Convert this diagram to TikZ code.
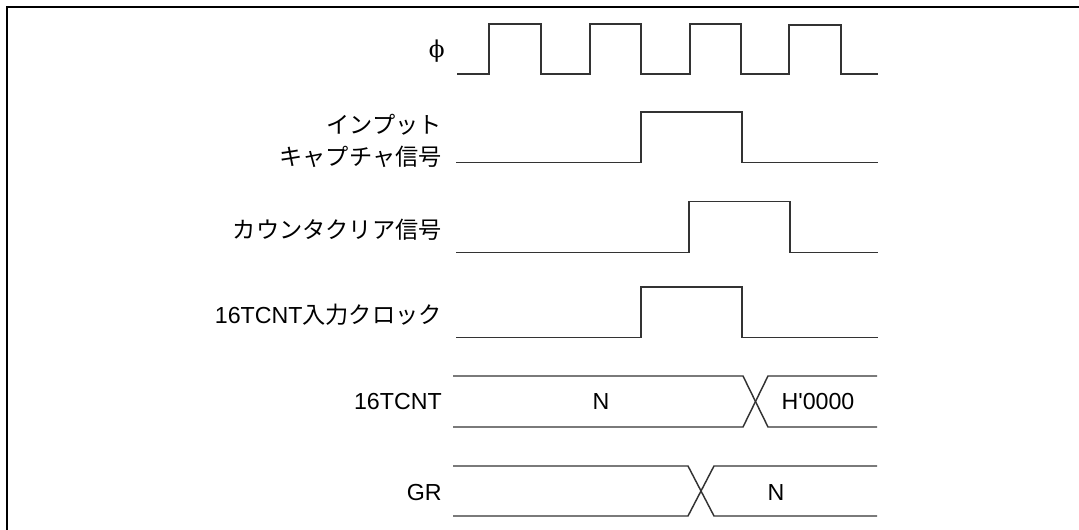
\documentclass[tikz,border=0pt]{standalone}
\usepackage{fontspec}
\setmainfont{Liberation Sans}
\newfontfamily\cjk{Noto Sans CJK JP}
\newfontfamily\phifont{DejaVu Serif}
\begin{document}
\begin{tikzpicture}[x=0.75pt,y=-0.75pt,
  sig/.style={line width=1.1pt, draw=black!80, line join=miter},
  frame/.style={line width=1.6pt, draw=black},
  lbl/.style={anchor=east, inner sep=0pt, font=\fontsize{17.4}{21}\selectfont},
  val/.style={inner sep=0pt, font=\fontsize{17.4}{21}\selectfont}]
\useasboundingbox (0,0) rectangle (1079,530);
\draw[frame] (7,530) -- (7,7) -- (1079,7);
% phi clock
\draw[sig] (457,74) -- (489,74) -- (489,24) -- (541,24) -- (541,74) -- (590,74) -- (590,24) -- (641,24) -- (641,74) -- (690,74) -- (690,24) -- (741,24) -- (741,74) -- (789,74) -- (789,25) -- (841,25) -- (841,74) -- (878,74);
% input capture
\draw[sig] (456,162.7) -- (641,162.7) -- (641,112) -- (742,112) -- (742,162.7) -- (878,162.7);
% counter clear
\draw[sig] (456,252.5) -- (689,252.5) -- (689,201.5) -- (790,201.5) -- (790,252.5) -- (878,252.5);
% input clock
\draw[sig] (456,337.5) -- (641,337.5) -- (641,287) -- (742,287) -- (742,337.5) -- (878,337.5);
% 16TCNT bus
\draw[sig] (453,376) -- (743,376) -- (768,427) -- (877,427);
\draw[sig] (453,427) -- (743,427) -- (768,376) -- (877,376);
% GR bus
\draw[sig] (453,466) -- (688,466) -- (714,516) -- (877,516);
\draw[sig] (453,516) -- (688,516) -- (714,466) -- (877,466);
% labels
\node[lbl] (phi) at (445,51) {\phifont ϕ};
\node[lbl] (ic1) at (442,125) {\cjk インプット};
\node[lbl] (ic2) at (442,157) {\cjk キャプチャ信号};
\node[lbl] (cc) at (442,230) {\cjk カウンタクリア信号};
\node[lbl] (clk) at (442,315) {16TCNT{\cjk 入力クロック}};
\node[lbl] (tcnt) at (442,402) {16TCNT};
\node[lbl] (gr) at (442,493) {GR};
\node[val] (n1) at (601,402) {N};
\node[val] (h0) at (818,402) {H\textquotesingle 0000};
\node[val] (n2) at (776,493) {N};
\end{tikzpicture}
\end{document}
